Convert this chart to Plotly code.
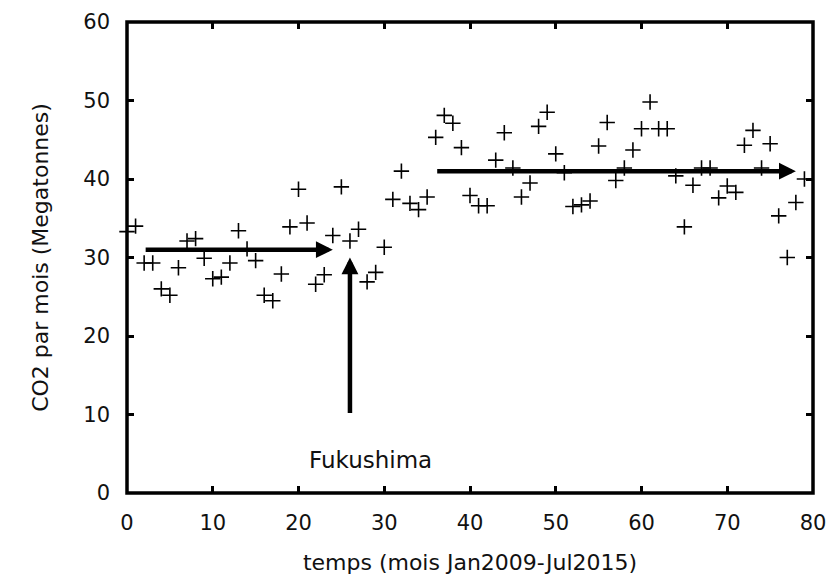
import plotly.graph_objects as go

# monthly CO2 emissions, Jan 2009 .. Jul 2015 (month index 0..79)
months = list(range(80))
co2 = [33.3, 34.0, 29.3, 29.3, 26.0, 25.2, 28.7, 32.1, 32.4, 29.9,
       27.3, 27.5, 29.3, 33.4, 31.1, 29.6, 25.2, 24.5, 27.9, 33.9,
       38.7, 34.4, 26.6, 27.8, 32.8, 39.0, 32.1, 33.6, 26.9, 28.1,
       31.3, 37.4, 41.0, 36.9, 36.1, 37.7, 45.3, 48.1, 47.1, 44.0,
       37.9, 36.6, 36.6, 42.4, 45.9, 41.4, 37.7, 39.5, 46.7, 48.5,
       43.2, 40.8, 36.5, 36.7, 37.2, 44.2, 47.2, 39.8, 41.4, 43.7,
       46.4, 49.8, 46.4, 46.4, 40.4, 33.9, 39.2, 41.4, 41.4, 37.6,
       39.1, 38.3, 44.3, 46.2, 41.4, 44.5, 35.3, 30.0, 37.0, 40.0]

# mean levels before / after, and the Fukushima marker
before_x = [2, 24]
before_y = 31
after_x = [36, 78]
after_y = 41
fuku_x = 26
fuku_y = [10, 30]

FONT = 'DejaVu Sans, Liberation Sans, Arial, sans-serif'

fig = go.Figure()
fig.add_trace(go.Scatter(
    x=months, y=co2, mode='markers',
    marker=dict(symbol='cross-thin', size=11, line=dict(width=1.6, color='black')),
    showlegend=False, cliponaxis=False,
))

arrow_style = dict(xref='x', yref='y', axref='x', ayref='y', text='',
                   showarrow=True, arrowhead=2, arrowsize=0.75, arrowwidth=4.5,
                   arrowcolor='black')
fig.add_annotation(x=before_x[1], y=before_y, ax=before_x[0], ay=before_y, **arrow_style)
fig.add_annotation(x=after_x[1], y=after_y, ax=after_x[0], ay=after_y, **arrow_style)
fig.add_annotation(x=fuku_x, y=fuku_y[1], ax=fuku_x, ay=fuku_y[0], **arrow_style)
fig.add_annotation(x=28.4, y=4.2, xref='x', yref='y', text='Fukushima',
                   showarrow=False, font=dict(size=23, color='#111'))

# thick gnuplot-like frame
fig.add_shape(type='rect', xref='paper', yref='paper', x0=0, y0=0, x1=1, y1=1,
              line=dict(color='black', width=3.5), layer='above')

axis_common = dict(
    showgrid=False, zeroline=False, showline=False, automargin=False,
    mirror='ticks', ticks='inside', ticklen=7, tickwidth=3, tickcolor='black',
    tickfont=dict(size=21, color='#111'),
)
# the page body adds an 8px margin, so the figure is 16px smaller than the window
fig.update_layout(
    width=819, height=572,
    margin=dict(l=119, r=14, t=14, b=87),
    plot_bgcolor='white', paper_bgcolor='white',
    font=dict(family=FONT, color='#111'),
    xaxis=dict(range=[0, 80], dtick=10, ticklabelstandoff=15,
               title=dict(text='temps (mois Jan2009-Jul2015)', font=dict(size=22), standoff=20),
               **axis_common),
    yaxis=dict(range=[0, 60], dtick=10, ticklabelstandoff=16,
               title=dict(text='CO2 par mois (Megatonnes)', font=dict(size=22), standoff=28),
               **axis_common),
)

fig.write_html("out.html")
